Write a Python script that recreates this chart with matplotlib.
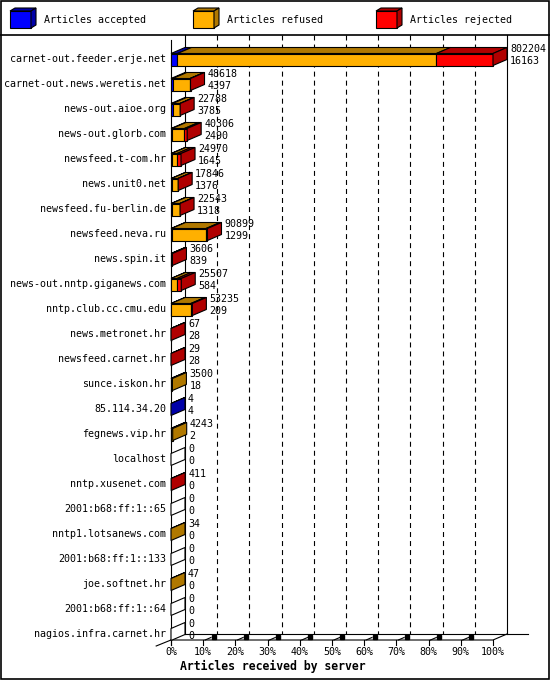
import numpy as np
import matplotlib
matplotlib.use("Agg")
import matplotlib.pyplot as plt
from matplotlib.patches import Polygon, Rectangle

plt.rcParams['font.family'] = ['DejaVu Sans Mono']
plt.rcParams['font.size'] = 7.2
plt.rcParams['lines.scale_dashes'] = False

servers = ["carnet-out.feeder.erje.net", "carnet-out.news.weretis.net", "news-out.aioe.org",
           "news-out.glorb.com", "newsfeed.t-com.hr", "news.unit0.net", "newsfeed.fu-berlin.de",
           "newsfeed.neva.ru", "news.spin.it", "news-out.nntp.giganews.com", "nntp.club.cc.cmu.edu",
           "news.metronet.hr", "newsfeed.carnet.hr", "sunce.iskon.hr", "85.114.34.20",
           "fegnews.vip.hr", "localhost", "nntp.xusenet.com", "2001:b68:ff:1::65",
           "nntp1.lotsanews.com", "2001:b68:ff:1::133", "joe.softnet.hr", "2001:b68:ff:1::64",
           "nagios.infra.carnet.hr"]
offered = [802204, 48618, 22788, 40306, 24970, 17846, 22543, 90899, 3606, 25507, 53235,
           67, 29, 3500, 4, 4243, 0, 411, 0, 34, 0, 47, 0, 0]
accepted = [16163, 4397, 3785, 2490, 1645, 1376, 1318, 1299, 839, 584, 209,
            28, 28, 18, 4, 2, 0, 0, 0, 0, 0, 0, 0, 0]
refused = [645000, 43000, 18500, 31116, 13400, 16000, 20800, 86000, 1500, 14500, 49300,
           10, 0, 3482, 0, 4241, 0, 0, 0, 34, 0, 47, 0, 0]
rejected = [o - a - r for o, a, r in zip(offered, accepted, refused)]

series = ["Articles accepted", "Articles refused", "Articles rejected"]
front_cols = ["#0000ff", "#ffb000", "#ff0000"]
dark_cols = ["#0000a8", "#b07800", "#b00000"]

W, H = 550, 680
fig = plt.figure(figsize=(W / 100, H / 100), dpi=100)

# plot area in pixels (front plane)
px_left, px_right, px_top, px_bot = 171, 493, 35, 640
row0, row_step = 59, 25
ax = fig.add_axes([px_left / W, (H - px_bot) / H, (px_right - px_left) / W, (px_bot - px_top) / H])
ax.set_xlim(0, 100)
ax.set_ylim((px_bot - row0) / row_step, (px_top - row0) / row_step)
ax.axis("off")

DX = 14 / (px_right - px_left) * 100
DY = -6 / row_step
y_floor = (px_bot - row0) / row_step
y_back = y_floor + DY
y_top = (px_top - row0) / row_step
lw = 0.8

# back wall, grid
for p in range(10, 100, 10):
    ax.plot([p + DX, p + DX], [y_top, y_back], color="black", lw=lw,
            linestyle=(0, (3.6, 2.9)), clip_on=False, zorder=1)
ax.plot([DX, DX], [y_top, y_back], color="black", lw=lw, clip_on=False, zorder=1)
ax.plot([100 + DX, 100 + DX], [y_top, y_back], color="black", lw=lw, clip_on=False, zorder=1)
ax.plot([DX, 100 + DX + 6.5], [y_back, y_back], color="black", lw=lw, clip_on=False, zorder=1)
# floor front
ax.plot([0, 100, 100 + DX], [y_floor, y_floor, y_back], color="black", lw=lw, clip_on=False, zorder=1)
ax.plot([0, 0], [y_top + 0.2, y_floor + 0.2], color="black", lw=lw, clip_on=False, zorder=1)
ax.plot([0, -4.6], [y_floor, y_floor + 0.24], color="black", lw=lw, clip_on=False, zorder=1)
for p in range(0, 101, 10):
    ax.plot([p, p], [y_floor, y_floor + 0.2], color="black", lw=lw, clip_on=False, zorder=1)
    if 0 < p < 100:
        ax.plot([p + 0.6, p + 2.4], [y_floor, y_floor - 0.1], color="black", lw=lw, clip_on=False)
        ax.plot([p + 3.2], [y_floor - 0.13], marker="s", ms=2.2, color="black", clip_on=False)
    ax.text(p, y_floor + 0.48, f"{p}%", ha="center", va="center")
ax.text(2.8, y_floor + 1.04, "Articles received by server", ha="left", va="center",
        fontweight="bold", fontsize=8.3)

# bars
max_total = max(offered)
for i, name in enumerate(servers):
    top, bot = i - 0.22, i + 0.26
    vals = [accepted[i], refused[i], rejected[i]]
    x0 = 0.0
    last = None
    for k, v in enumerate(vals):
        if v <= 0:
            continue
        w = v / max_total * 100
        ax.add_patch(Rectangle((x0, top), w, bot - top, facecolor=front_cols[k],
                               edgecolor="black", lw=lw, clip_on=False, zorder=3))
        ax.add_patch(Polygon([(x0, top), (x0 + w, top), (x0 + w + DX, top + DY), (x0 + DX, top + DY)],
                             closed=True, facecolor=dark_cols[k], edgecolor="black", lw=lw,
                             clip_on=False, zorder=3))
        x0 += w
        last = k
    side_col = "white" if last is None else dark_cols[last]
    ax.add_patch(Polygon([(x0, top), (x0, bot), (x0 + DX, bot + DY), (x0 + DX, top + DY)],
                         closed=True, facecolor=side_col, edgecolor="black", lw=lw,
                         clip_on=False, zorder=4))
    ax.text(-1.5, i, name, ha="right", va="center")
    ax.text(x0 + DX + 0.9, i - 0.40, str(offered[i]), ha="left", va="center", zorder=5)
    ax.text(x0 + DX + 0.9, i + 0.07, str(accepted[i]), ha="left", va="center", zorder=5)

# frame and legend (pixel overlay)
ov = fig.add_axes([0, 0, 1, 1], zorder=-1)
ov.set_xlim(0, W)
ov.set_ylim(H, 0)
ov.axis("off")
ov.add_patch(Rectangle((0.5, 0.5), W - 1.5, H - 1.5, fill=False, edgecolor="black", lw=1.2))
ov.plot([0, W], [35, 35], color="black", lw=1.2)

ax_leg = fig.add_axes([0, 0, 1, 1])
ax_leg.set_xlim(0, W)
ax_leg.set_ylim(H, 0)
ax_leg.axis("off")
for k, lab in enumerate(series):
    cx = 10 + 183 * k
    ax_leg.add_patch(Rectangle((cx, 11), 21, 17, facecolor=front_cols[k], edgecolor="black", lw=lw))
    ax_leg.add_patch(Polygon([(cx, 11), (cx + 21, 11), (cx + 26, 8), (cx + 5, 8)], closed=True,
                             facecolor=dark_cols[k], edgecolor="black", lw=lw))
    ax_leg.add_patch(Polygon([(cx + 21, 11), (cx + 21, 28), (cx + 26, 25), (cx + 26, 8)], closed=True,
                             facecolor=dark_cols[k], edgecolor="black", lw=lw))
    ax_leg.text(cx + 34, 20, lab, ha="left", va="center")

fig.savefig("out.png", dpi=100)
